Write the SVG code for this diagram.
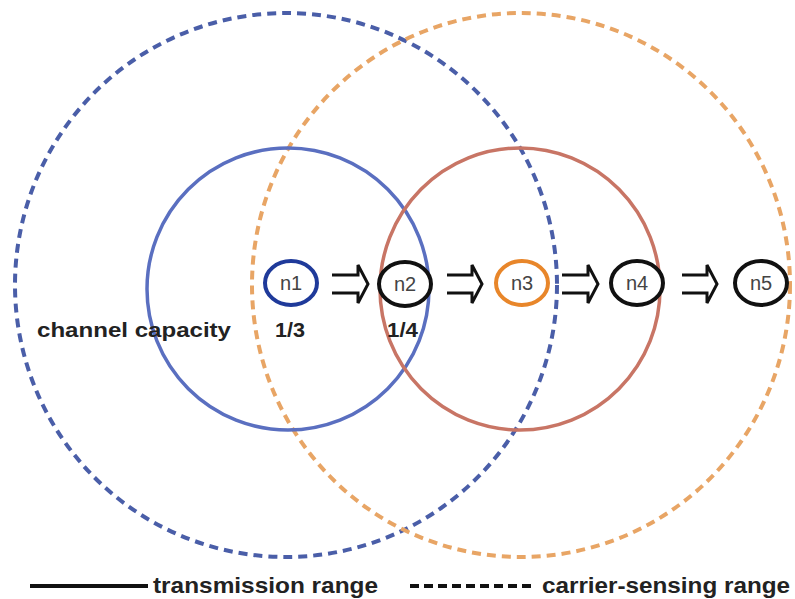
<svg xmlns="http://www.w3.org/2000/svg" width="795" height="599" viewBox="0 0 795 599">
<style>
.cs{fill:none;stroke-width:4;stroke-dasharray:9 6}
.tr{fill:none;stroke-width:3.5}
.node{fill:#fff;stroke-width:4}
.nt{font-family:"Liberation Sans",Arial,sans-serif;font-size:20px;fill:#444;text-anchor:middle}
.lb{font-family:"Liberation Sans",Arial,sans-serif;font-weight:bold;fill:#222}
.arr{fill:#fff;stroke:#111;stroke-width:3;stroke-linejoin:miter}
</style>
<rect width="795" height="599" fill="#fff"/>
<g id="ranges">
<ellipse class="cs" cx="286" cy="285" rx="271" ry="272" stroke="#4a5ea8"/>
<ellipse class="cs" cx="521" cy="285" rx="269" ry="272" stroke="#e8a565"/>
<ellipse class="tr" cx="288" cy="289" rx="141" ry="141" stroke="#5a6fc0"/>
<ellipse class="tr" cx="520" cy="289" rx="140" ry="141" stroke="#c87565"/>
</g>
<g id="connectors">
<path class="arr" d="M332,275 H358 V265 L368,284 L358,303 V293 H332"/>
<path class="arr" d="M447,275 H472 V265 L482,284 L472,303 V293 H447"/>
<path class="arr" d="M562,275 H588 V265 L598,284 L588,303 V293 H562"/>
<path class="arr" d="M682,275 H707 V265 L717,284 L707,303 V293 H682"/>
</g>
<g id="n1"><ellipse class="node" cx="291" cy="283" rx="26" ry="22" stroke="#1f3a9a"/><text class="nt" x="291" y="290">n1</text></g>
<g id="n2"><ellipse class="node" cx="405" cy="284" rx="26" ry="22" stroke="#111"/><text class="nt" x="405" y="291">n2</text></g>
<g id="n3"><ellipse class="node" cx="522" cy="283" rx="26" ry="22" stroke="#e8862a"/><text class="nt" x="522" y="290">n3</text></g>
<g id="n4"><ellipse class="node" cx="637" cy="283" rx="26" ry="22" stroke="#111"/><text class="nt" x="637" y="290">n4</text></g>
<g id="n5"><ellipse class="node" cx="761" cy="283" rx="26" ry="22" stroke="#111"/><text class="nt" x="761" y="290">n5</text></g>
<g id="labels">
<text class="lb" x="37" y="337" font-size="20" textLength="194" lengthAdjust="spacingAndGlyphs">channel capacity</text>
<text class="lb" x="275" y="337" font-size="20" textLength="30" lengthAdjust="spacingAndGlyphs">1/3</text>
<text class="lb" x="387" y="337" font-size="20" textLength="31" lengthAdjust="spacingAndGlyphs">1/4</text>
</g>
<g id="legend">
<line x1="30" y1="586" x2="148" y2="586" stroke="#111" stroke-width="4"/>
<text class="lb" x="153" y="593" font-size="22" textLength="225" lengthAdjust="spacingAndGlyphs">transmission range</text>
<line x1="410" y1="586" x2="535" y2="586" stroke="#111" stroke-width="4" stroke-dasharray="9 5"/>
<text class="lb" x="542" y="593" font-size="22" textLength="248" lengthAdjust="spacingAndGlyphs">carrier-sensing range</text>
</g>
</svg>
